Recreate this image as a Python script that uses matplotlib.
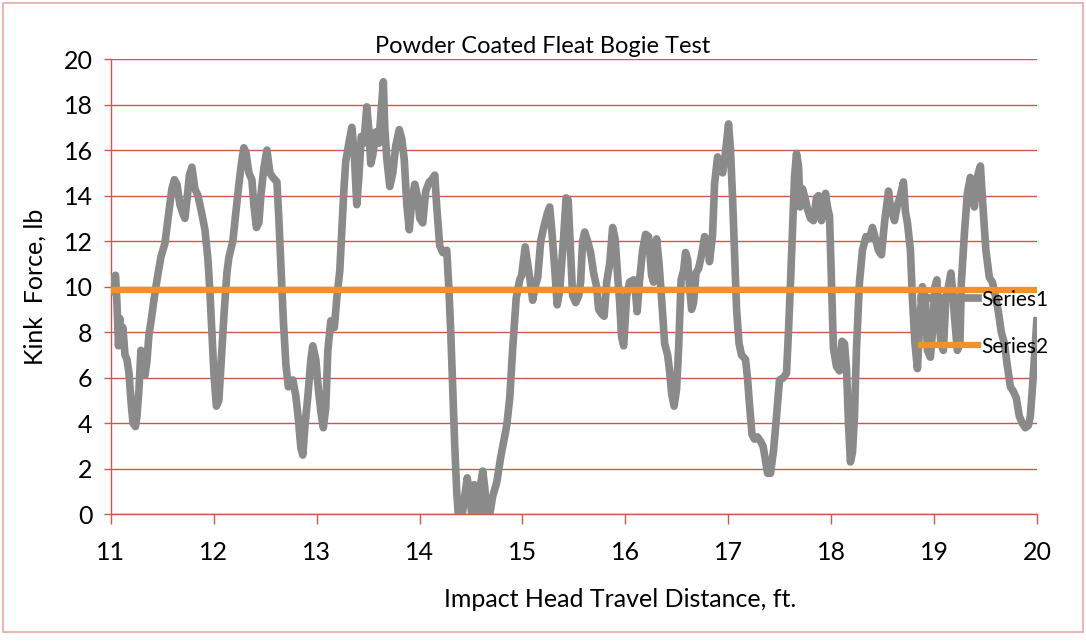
import matplotlib
matplotlib.use('Agg')
import matplotlib.pyplot as plt
from matplotlib.patches import Rectangle

# kink force trace (distance ft, force lb)
distance = [
    11.002, 11.021, 11.046, 11.060, 11.075, 11.089, 11.104, 11.118, 11.138, 11.157,
    11.177, 11.196, 11.216, 11.240, 11.254, 11.274, 11.293, 11.313, 11.332, 11.351,
    11.371, 11.395, 11.419, 11.449, 11.487, 11.526, 11.565, 11.594, 11.618, 11.643,
    11.672, 11.701, 11.720, 11.740, 11.764, 11.788, 11.817, 11.847, 11.885, 11.915,
    11.944, 11.963, 11.983, 12.002, 12.026, 12.050, 12.070, 12.099, 12.128, 12.148,
    12.186, 12.216, 12.245, 12.269, 12.293, 12.313, 12.342, 12.371, 12.390, 12.415,
    12.439, 12.458, 12.487, 12.517, 12.546, 12.575, 12.614, 12.633, 12.652, 12.677,
    12.701, 12.725, 12.750, 12.769, 12.798, 12.822, 12.847, 12.866, 12.885, 12.915,
    12.944, 12.963, 12.992, 13.017, 13.041, 13.065, 13.089, 13.109, 13.138, 13.172,
    13.196, 13.225, 13.245, 13.264, 13.283, 13.313, 13.342, 13.366, 13.390, 13.410,
    13.434, 13.458, 13.487, 13.507, 13.526, 13.546, 13.575, 13.604, 13.623, 13.648,
    13.662, 13.682, 13.711, 13.740, 13.769, 13.803, 13.827, 13.851, 13.876, 13.900,
    13.924, 13.953, 13.983, 14.002, 14.031, 14.060, 14.094, 14.118, 14.148, 14.167,
    14.196, 14.225, 14.264, 14.284, 14.303, 14.322, 14.342, 14.361, 14.376, 14.395,
    14.415, 14.439, 14.463, 14.487, 14.507, 14.531, 14.555, 14.575, 14.589, 14.614,
    14.633, 14.652, 14.682, 14.711, 14.750, 14.788, 14.817, 14.847, 14.876, 14.905,
    14.939, 14.973, 14.992, 15.026, 15.050, 15.070, 15.099, 15.123, 15.148, 15.177,
    15.206, 15.240, 15.264, 15.288, 15.313, 15.337, 15.361, 15.381, 15.400, 15.424,
    15.444, 15.468, 15.487, 15.517, 15.546, 15.565, 15.584, 15.604, 15.633, 15.662,
    15.691, 15.720, 15.740, 15.769, 15.793, 15.818, 15.847, 15.876, 15.900, 15.924,
    15.944, 15.963, 15.983, 16.012, 16.041, 16.080, 16.099, 16.114, 16.138, 16.167,
    16.196, 16.225, 16.254, 16.274, 16.303, 16.327, 16.351, 16.381, 16.410, 16.429,
    16.449, 16.473, 16.497, 16.517, 16.541, 16.565, 16.584, 16.604, 16.623, 16.643,
    16.662, 16.686, 16.711, 16.740, 16.769, 16.798, 16.817, 16.847, 16.866, 16.895,
    16.919, 16.944, 16.968, 16.987, 17.002, 17.021, 17.041, 17.060, 17.080, 17.104,
    17.128, 17.167, 17.186, 17.206, 17.230, 17.254, 17.283, 17.313, 17.337, 17.356,
    17.381, 17.410, 17.439, 17.468, 17.497, 17.536, 17.565, 17.584, 17.604, 17.628,
    17.643, 17.662, 17.682, 17.696, 17.720, 17.750, 17.769, 17.798, 17.827, 17.856,
    17.876, 17.905, 17.944, 17.963, 17.983, 18.002, 18.021, 18.050, 18.080, 18.104,
    18.128, 18.148, 18.167, 18.186, 18.206, 18.225, 18.245, 18.274, 18.303, 18.337,
    18.371, 18.400, 18.429, 18.458, 18.487, 18.517, 18.556, 18.575, 18.614, 18.643,
    18.672, 18.701, 18.720, 18.740, 18.769, 18.788, 18.813, 18.837, 18.861, 18.886,
    18.915, 18.934, 18.963, 18.983, 19.007, 19.026, 19.041, 19.065, 19.089, 19.114,
    19.138, 19.162, 19.182, 19.196, 19.225, 19.250, 19.264, 19.293, 19.322, 19.351,
    19.371, 19.390, 19.410, 19.429, 19.449, 19.468, 19.502, 19.536, 19.565, 19.594,
    19.623, 19.652, 19.682, 19.711, 19.740, 19.769, 19.798, 19.827, 19.856, 19.885,
    19.915, 19.934, 19.958, 19.978, 19.997,
]
force = [
    9.8, 10.2, 10.5, 9.3, 7.4, 8.6, 7.6, 8.2, 7.0, 6.8,
    6.2, 5.0, 4.0, 3.85, 4.3, 5.5, 7.2, 6.5, 6.1, 6.7,
    7.9, 8.6, 9.4, 10.3, 11.3, 11.9, 13.3, 14.3, 14.7, 14.5,
    13.6, 13.2, 13.0, 13.8, 14.9, 15.25, 14.3, 14.0, 13.2, 12.5,
    11.2, 9.8, 8.0, 6.2, 4.75, 5.0, 6.5, 8.7, 10.6, 11.3,
    12.0, 13.3, 14.5, 15.4, 16.1, 15.9, 15.0, 14.7, 13.6, 12.6,
    12.8, 14.0, 15.2, 16.0, 15.0, 14.8, 14.6, 13.0, 11.0, 8.5,
    6.6, 5.6, 5.7, 5.9, 5.2, 4.2, 2.9, 2.6, 3.8, 5.2,
    6.8, 7.4, 6.8, 5.5, 4.5, 3.8, 4.7, 7.2, 8.5, 8.2,
    9.5, 10.7, 12.5, 14.2, 15.5, 16.3, 17.0, 15.8, 13.6, 14.8,
    16.6, 16.3, 17.9, 16.9, 15.4, 15.8, 16.8, 16.3, 17.5, 19.0,
    17.0, 15.6, 14.4, 15.0, 16.2, 16.9, 16.5, 15.6, 13.6, 12.5,
    13.7, 14.5, 13.9, 13.0, 12.8, 14.2, 14.6, 14.7, 14.9, 13.5,
    11.8, 11.5, 11.6, 10.0, 8.0, 5.5, 3.0, 1.0, 0.0, 0.2,
    0.0, 0.8, 1.6, 0.8, 0.0, 1.3, 0.3, 0.0, 1.2, 1.9,
    1.2, 0.0, 0.0, 0.8, 1.4, 2.5, 3.2, 3.9, 5.1, 7.3,
    9.5, 10.3, 10.5, 11.75, 11.0, 10.4, 9.4, 10.0, 10.4, 12.0,
    12.6, 13.2, 13.5, 12.3, 10.8, 9.2, 9.8, 11.0, 12.2, 13.9,
    13.8, 11.5, 9.6, 9.3, 9.6, 10.2, 12.0, 12.4, 12.0, 11.5,
    10.6, 10.0, 9.0, 8.8, 8.7, 10.2, 11.0, 12.6, 12.1, 10.5,
    9.3, 7.8, 7.4, 9.6, 10.2, 10.3, 9.7, 8.9, 10.3, 11.6,
    12.3, 12.2, 10.5, 10.2, 12.1, 11.0, 9.5, 7.5, 7.0, 6.3,
    5.3, 4.75, 5.5, 7.3, 10.3, 10.7, 11.5, 11.2, 10.0, 9.0,
    9.3, 10.6, 10.8, 11.4, 12.2, 12.0, 11.1, 12.3, 14.5, 15.7,
    15.5, 15.0, 15.7, 16.5, 17.15, 16.0, 13.9, 11.5, 9.0, 7.5,
    7.0, 6.8, 6.0, 4.8, 3.5, 3.3, 3.4, 3.2, 3.0, 2.5,
    1.8, 1.8, 2.8, 4.3, 5.9, 6.0, 6.2, 8.0, 10.2, 13.0,
    14.8, 15.85, 15.3, 13.5, 14.3, 13.8, 13.4, 13.0, 12.9, 13.9,
    14.0, 12.9, 14.1, 13.5, 13.1, 10.2, 7.3, 6.5, 6.3, 7.6,
    7.5, 6.4, 4.0, 2.3, 2.7, 4.3, 7.3, 10.2, 11.6, 12.2,
    12.1, 12.6, 12.1, 11.6, 11.4, 12.8, 14.2, 13.5, 12.9, 13.6,
    14.0, 14.6, 13.3, 12.8, 11.6, 9.5, 7.5, 6.4, 8.5, 10.0,
    9.5, 7.2, 6.9, 8.0, 10.0, 10.3, 9.0, 7.5, 7.2, 9.5,
    10.0, 10.6, 9.7, 8.7, 7.2, 7.5, 10.2, 12.3, 14.1, 14.8,
    14.6, 13.5, 14.6, 15.0, 15.3, 13.9, 11.6, 10.4, 10.2, 9.6,
    8.9, 8.0, 7.5, 6.5, 5.6, 5.4, 5.1, 4.3, 4.0, 3.8,
    3.9, 4.3, 5.8, 7.2, 8.5,
]
series2_x = [11, 20]
series2_y = [9.85, 9.85]

red = '#d0564a'
gray = '#8a8a8a'
orange = '#f0912a'
plt.rcParams['font.family'] = ['Lato', 'DejaVu Sans']

fig = plt.figure(figsize=(10.86, 6.42), dpi=100)
ax = fig.add_axes([0.102, 0.199, 0.853, 0.709])

ax.plot(distance, force, color=gray, lw=5.5, solid_joinstyle='round', label='Series1', zorder=3)
ax.plot(series2_x, series2_y, color=orange, lw=4.5, label='Series2', zorder=4)

ax.set_xlim(11, 20)
ax.set_ylim(0, 20)
ax.set_xticks(range(11, 21))
ax.set_yticks(range(0, 21, 2))
ax.set_axisbelow(True)
ax.yaxis.grid(True, color=red, lw=1.0)
for s in ['top', 'right']:
    ax.spines[s].set_visible(False)
for s in ['left', 'bottom']:
    ax.spines[s].set_color(red)
    ax.spines[s].set_linewidth(1.0)
ax.tick_params(axis='x', colors=red, length=7, width=1, pad=12, labelsize=18, labelcolor='black')
ax.tick_params(axis='y', colors=red, length=5, width=1, pad=8, labelsize=18, labelcolor='black')

ax.set_xlabel('Impact Head Travel Distance, ft.', fontsize=18)
ax.xaxis.set_label_coords(0.55, -0.163)
ax.set_ylabel('Kink  Force, lb', fontsize=18, labelpad=12)
fig.text(0.5, 0.928, 'Powder Coated Fleat Bogie Test', ha='center', va='center', fontsize=17)

# white patch behind the legend hides the gridlines there, data still drawn over it
ax.add_patch(Rectangle((0.866, 0.33), 0.14, 0.19, transform=ax.transAxes,
                       facecolor='white', edgecolor='none', zorder=1, clip_on=False))
leg = ax.legend(loc='upper left', bbox_to_anchor=(0.866, 0.512), frameon=False, fontsize=15,
                handlelength=2.7, handletextpad=0.2, labelspacing=1.3, borderpad=0.4,
                borderaxespad=0)
leg.set_zorder(5)

fig.patches.append(Rectangle((0.003, 0.015), 0.994, 0.98, transform=fig.transFigure,
                             fill=False, edgecolor='#e8a8a0', lw=1.2))

fig.savefig('out.png', dpi=100)
